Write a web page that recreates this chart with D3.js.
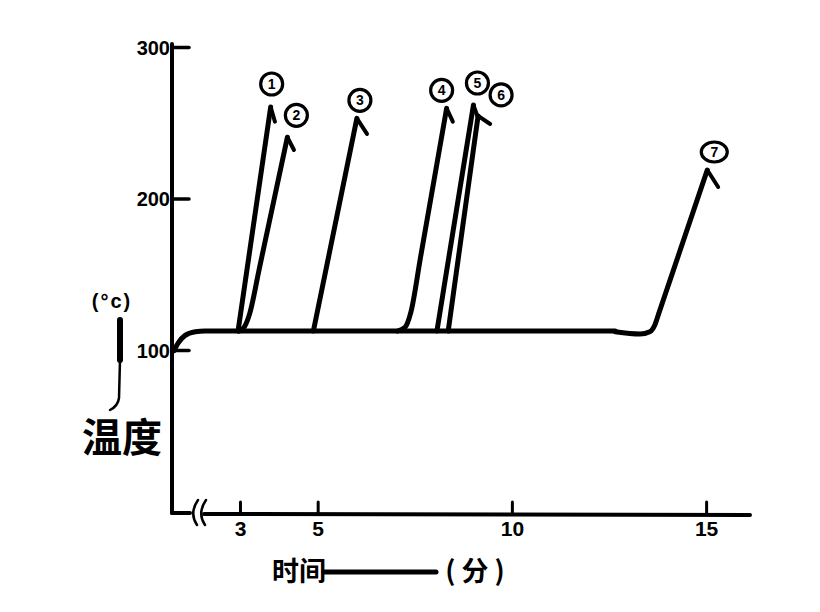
<!DOCTYPE html>
<html>
<head>
<meta charset="utf-8">
<script src="https://cdn.jsdelivr.net/npm/d3@7/dist/d3.min.js"></script>
<style>
  html, body { margin: 0; padding: 0; background: #fff; }
  svg { display: block; }
  text { fill: #000; }
</style>
</head>
<body>
<svg id="chart" width="820" height="612"></svg>
<script>
// ---------------- data ----------------
const curveLabels = ["1", "2", "3", "4", "5", "6", "7"];
const xTickValues = [3, 5, 10, 15];
const yTickValues = [100, 200, 300];
// common heating phase and plateau (time in minutes, temperature in °C)
const baseTimes = [1.30, 1.42, 1.58, 1.85, 2.1, 12.66];
const baseTemps = [99.5, 105, 109.5, 112, 112.5, 112.5];
// each branch leaves the plateau and rises to a peak (with the return stroke)
const curveTimes = [
  [2.95, 3.79, 3.90],
  [2.98, 3.12, 3.25, 3.50, 4.22, 4.39],
  [4.89, 6.01, 6.27],
  [7.05, 7.25, 7.40, 7.65, 8.32, 8.48],
  [8.07, 9.01, 9.13],
  [8.36, 9.13, 9.44],
  [12.66, 13.30, 13.55, 13.68, 13.78, 14.05, 15.03, 15.31]
];
const curveTemps = [
  [112.5, 260.4, 250.7],
  [112.5, 115.5, 124.0, 154.0, 240.4, 232.0],
  [112.5, 252.9, 242.6],
  [112.5, 115.0, 125.0, 161.5, 259.5, 250.7],
  [112.5, 261.7, 253.1],
  [112.5, 254.5, 249.2],
  [112.0, 110.5, 112.0, 116.5, 124.0, 144.5, 218.8, 207.6]
];
// index of the peak point in each branch
const peakIndex = [1, 4, 1, 4, 1, 1, 6];
// label offsets from the peak (layout only)
const labelDx = [1, 9, 3, -5, 4, 23, 7];
const labelDy = [-23, -22, -18, -18, -22, -21, -18];

// ---------------- scales ----------------
const xMin = 1.25, xMax = 16.13;
const x = d3.scaleLinear().domain([xMin, xMax]).range([172, 750]);
const y = d3.scaleLinear().domain([100, 300]).range([350, 47]);
const axisY = 513;

const svg = d3.select("#chart");
const ink = "#000";

// ---------------- y axis ----------------
const yAxis = d3.axisLeft(y).tickValues(yTickValues)
  .tickSizeInner(-17).tickSizeOuter(0).tickPadding(2)
  .tickFormat(d3.format("d"));
const gy = svg.append("g").attr("transform", `translate(${x(xMin)},0)`).call(yAxis);
gy.select(".domain").remove();
gy.selectAll(".tick line").attr("stroke", ink).attr("stroke-width", 3.5).attr("stroke-linecap", "round");
gy.selectAll(".tick text")
  .attr("font-family", "Liberation Sans, Arial, sans-serif")
  .attr("font-weight", "bold").attr("font-size", 20).attr("dy", "0.36em");
svg.append("line")
  .attr("x1", x(xMin)).attr("x2", x(xMin))
  .attr("y1", y(300) - 3).attr("y2", axisY)
  .attr("stroke", ink).attr("stroke-width", 4).attr("stroke-linecap", "round");

// ---------------- x axis ----------------
const xAxis = d3.axisBottom(x).tickValues(xTickValues)
  .tickSizeInner(-11).tickSizeOuter(0).tickPadding(8)
  .tickFormat(d3.format("d"));
const gx = svg.append("g").attr("transform", `translate(0,${axisY})`).call(xAxis);
gx.select(".domain").remove();
gx.selectAll(".tick line").attr("stroke", ink).attr("stroke-width", 3).attr("stroke-linecap", "round");
gx.selectAll(".tick text")
  .attr("font-family", "Liberation Sans, Arial, sans-serif")
  .attr("font-weight", "bold").attr("font-size", 21);
// axis line with a break near the origin
svg.append("line")
  .attr("x1", x(xMin)).attr("x2", x(xMin) + 18)
  .attr("y1", axisY).attr("y2", axisY)
  .attr("stroke", ink).attr("stroke-width", 4).attr("stroke-linecap", "round");
svg.append("line")
  .attr("x1", x(xMin) + 32).attr("x2", x(xMax))
  .attr("y1", axisY + 1).attr("y2", axisY + 2)
  .attr("stroke", ink).attr("stroke-width", 4).attr("stroke-linecap", "round");
[0, 8].forEach(off => {
  const bx = x(xMin) + 22 + off;
  svg.append("path")
    .attr("d", `M${bx + 4},${axisY - 13} Q${bx - 5},${axisY} ${bx + 3},${axisY + 12}`)
    .attr("fill", "none").attr("stroke", ink).attr("stroke-width", 2.5).attr("stroke-linecap", "round");
});

// ---------------- curves ----------------
const lineSmooth = d3.line().x(d => x(d[0])).y(d => y(d[1])).curve(d3.curveMonotoneX);
const lineStraight = d3.line().x(d => x(d[0])).y(d => y(d[1])).curve(d3.curveLinear);
const strokeW = 5;

svg.append("path")
  .datum(d3.zip(baseTimes, baseTemps))
  .attr("d", lineSmooth)
  .attr("fill", "none").attr("stroke", ink).attr("stroke-width", strokeW)
  .attr("stroke-linecap", "round").attr("stroke-linejoin", "round");

const branches = curveTimes.map((ts, i) => d3.zip(ts, curveTemps[i]));
// smooth lower part up to the peak, straight return stroke after it
svg.selectAll("path.rise")
  .data(branches).enter().append("path")
  .attr("class", "rise")
  .attr("d", (pts, i) => lineSmooth(pts.slice(0, peakIndex[i] + 1)))
  .attr("fill", "none").attr("stroke", ink).attr("stroke-width", strokeW)
  .attr("stroke-linecap", "round").attr("stroke-linejoin", "round");
svg.selectAll("path.tip")
  .data(branches).enter().append("path")
  .attr("class", "tip")
  .attr("d", (pts, i) => lineStraight(pts.slice(peakIndex[i])))
  .attr("fill", "none").attr("stroke", ink).attr("stroke-width", 4)
  .attr("stroke-linecap", "round").attr("stroke-linejoin", "round");

// ---------------- circled labels ----------------
const lab = svg.selectAll("g.lab")
  .data(curveLabels).enter().append("g")
  .attr("class", "lab")
  .attr("transform", (d, i) => {
    const p = branches[i][peakIndex[i]];
    return `translate(${x(p[0]) + labelDx[i]},${y(p[1]) + labelDy[i]})`;
  });
lab.append("ellipse")
  .attr("rx", (d, i) => i === 6 ? 13 : 11).attr("ry", (d, i) => i === 6 ? 10 : 11)
  .attr("fill", "#fff").attr("stroke", ink).attr("stroke-width", 3.2);
lab.append("text")
  .attr("text-anchor", "middle").attr("dy", "0.36em")
  .attr("font-family", "Liberation Sans, Arial, sans-serif")
  .attr("font-weight", "bold").attr("font-size", 14)
  .text(d => d);

// ---------------- axis titles ----------------
svg.append("text")
  .attr("x", 112).attr("y", 308).attr("text-anchor", "middle")
  .attr("font-family", "Liberation Sans, Arial, sans-serif")
  .attr("font-weight", "bold").attr("font-size", 20)
  .attr("letter-spacing", 2)
  .text("(°c)");
svg.append("line")
  .attr("x1", 120).attr("x2", 120).attr("y1", 320).attr("y2", 360)
  .attr("stroke", ink).attr("stroke-width", 6).attr("stroke-linecap", "round");
svg.append("path")
  .attr("d", "M120,360 L119,398 Q118,406 110,410")
  .attr("fill", "none").attr("stroke", ink).attr("stroke-width", 2.5).attr("stroke-linecap", "round");
svg.append("text")
  .attr("x", 122).attr("y", 452).attr("text-anchor", "middle")
  .attr("font-family", "Noto Sans CJK SC, sans-serif")
  .attr("font-weight", "bold").attr("font-size", 40)
  .text("温度");

svg.append("text")
  .attr("x", 272).attr("y", 581)
  .attr("font-family", "Noto Sans CJK SC, sans-serif")
  .attr("font-weight", "bold").attr("font-size", 27)
  .text("时间");
svg.append("line")
  .attr("x1", 324).attr("x2", 436).attr("y1", 572).attr("y2", 572)
  .attr("stroke", ink).attr("stroke-width", 5).attr("stroke-linecap", "round");
svg.append("text")
  .attr("x", 478).attr("y", 581).attr("text-anchor", "middle")
  .attr("font-family", "Noto Sans CJK SC, sans-serif")
  .attr("font-weight", "bold").attr("font-size", 27)
  .attr("letter-spacing", 6)
  .text("(分)");
</script>
</body>
</html>
